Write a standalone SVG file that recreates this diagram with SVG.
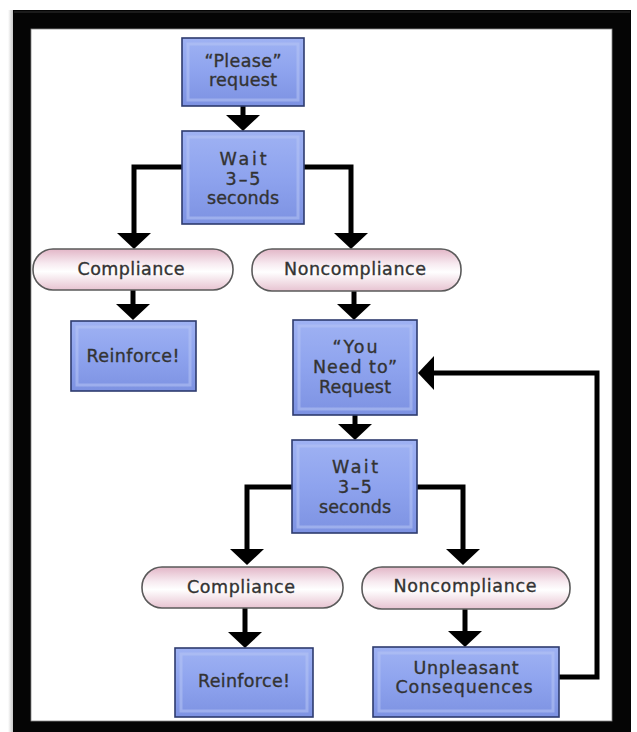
<svg xmlns="http://www.w3.org/2000/svg" width="637" height="732" viewBox="0 0 637 732">
<style>
.box{fill:url(#boxg);stroke:#2e3b6e;stroke-width:1.6}
.bev{fill:none;stroke:#b7c4f4;stroke-width:3;opacity:0.55}
.pill{fill:url(#pillg);stroke:#5a5a5a;stroke-width:1.6}
.t{font-family:"DejaVu Sans","Liberation Sans",sans-serif;font-size:17.5px;fill:#333;stroke:#333;stroke-width:0.35;text-anchor:middle}
.c{fill:none;stroke:#000;stroke-width:5;marker-end:url(#ah)}
</style>
<defs>
<linearGradient id="boxg" x1="0" y1="0" x2="0" y2="1">
<stop offset="0" stop-color="#9fb2f3"/>
<stop offset="0.5" stop-color="#8ea3ee"/>
<stop offset="1" stop-color="#7d92e2"/>
</linearGradient>
<linearGradient id="pillg" x1="0" y1="0" x2="0" y2="1">
<stop offset="0" stop-color="#e2b6c7"/>
<stop offset="0.35" stop-color="#f7eaf0"/>
<stop offset="0.55" stop-color="#ffffff"/>
<stop offset="1" stop-color="#e7c3d1"/>
</linearGradient>
<linearGradient id="shadow" x1="0" y1="0" x2="1" y2="0">
<stop offset="0" stop-color="#ffffff"/>
<stop offset="1" stop-color="#c8c8c8"/>
</linearGradient>
<marker id="ah" viewBox="0 0 16 34" markerWidth="16" markerHeight="34" refX="4" refY="17" orient="auto" markerUnits="userSpaceOnUse">
<path d="M0,0 L16,17 L0,34 z" fill="#000"/>
</marker>
</defs>
<rect x="0" y="0" width="637" height="732" fill="#fff"/>
<g id="frame">
<rect x="8" y="10" width="5" height="722" fill="url(#shadow)"/>
<rect x="13" y="10" width="618" height="730" fill="#050505"/>
<line x1="14" y1="12" x2="630" y2="12" stroke="#333" stroke-width="1"/>
<rect x="31" y="29" width="581" height="692" fill="#fff" stroke="#888" stroke-width="0.8"/>
</g>
<g id="connectors">
<path class="c" d="M243,106 V119"/>
<path class="c" d="M182,167 H134 V237"/>
<path class="c" d="M304,167 H351 V237"/>
<path class="c" d="M133,290 V308"/>
<path class="c" d="M354,291 V308"/>
<path class="c" d="M355,415 V428"/>
<path class="c" d="M292,487 H247 V553"/>
<path class="c" d="M417,487 H463 V553"/>
<path class="c" d="M245,608 V636"/>
<path class="c" d="M465,609 V635"/>
<path class="c" d="M559,677 H597 V373 H430"/>
</g>
<g id="please">
<rect class="box" x="182" y="38" width="122" height="68"/>
<rect class="bev" x="188" y="44" width="110" height="56"/>
<text class="t" x="243" y="67" textLength="77">“Please”</text>
<text class="t" x="243" y="86" textLength="68">request</text>
</g>
<g id="wait1">
<rect class="box" x="182" y="131" width="122" height="93"/>
<rect class="bev" x="188" y="137" width="110" height="81"/>
<text class="t" x="243" y="165" textLength="47">Wait</text>
<text class="t" x="243" y="185" textLength="35">3–5</text>
<text class="t" x="243" y="204" textLength="72">seconds</text>
</g>
<g id="compliance1">
<rect class="pill" x="33" y="249" width="200" height="41" rx="20" ry="20"/>
<text class="t" x="131" y="275" textLength="107">Compliance</text>
</g>
<g id="noncompliance1">
<rect class="pill" x="252" y="249" width="209" height="42" rx="20" ry="20"/>
<text class="t" x="355" y="275" textLength="142">Noncompliance</text>
</g>
<g id="reinforce1">
<rect class="box" x="71" y="321" width="125" height="70"/>
<rect class="bev" x="77" y="327" width="113" height="58"/>
<text class="t" x="133" y="362" textLength="93">Reinforce!</text>
</g>
<g id="youneedto">
<rect class="box" x="293" y="320" width="124" height="95"/>
<rect class="bev" x="299" y="326" width="112" height="83"/>
<text class="t" x="355" y="353" textLength="45">“You</text>
<text class="t" x="355" y="373" textLength="84">Need to”</text>
<text class="t" x="355" y="393" textLength="72">Request</text>
</g>
<g id="wait2">
<rect class="box" x="292" y="440" width="125" height="93"/>
<rect class="bev" x="298" y="446" width="113" height="81"/>
<text class="t" x="355" y="473" textLength="46">Wait</text>
<text class="t" x="355" y="493" textLength="34">3–5</text>
<text class="t" x="355" y="513" textLength="72">seconds</text>
</g>
<g id="compliance2">
<rect class="pill" x="142" y="567" width="201" height="41" rx="20" ry="20"/>
<text class="t" x="241" y="593" textLength="108">Compliance</text>
</g>
<g id="noncompliance2">
<rect class="pill" x="362" y="567" width="208" height="42" rx="20" ry="20"/>
<text class="t" x="465" y="592" textLength="143">Noncompliance</text>
</g>
<g id="reinforce2">
<rect class="box" x="175" y="648" width="138" height="69"/>
<rect class="bev" x="181" y="654" width="126" height="57"/>
<text class="t" x="244" y="687" textLength="92">Reinforce!</text>
</g>
<g id="unpleasant">
<rect class="box" x="373" y="647" width="186" height="70"/>
<rect class="bev" x="379" y="653" width="174" height="58"/>
<text class="t" x="466" y="674" textLength="105">Unpleasant</text>
<text class="t" x="464" y="693" textLength="137">Consequences</text>
</g>
</svg>
